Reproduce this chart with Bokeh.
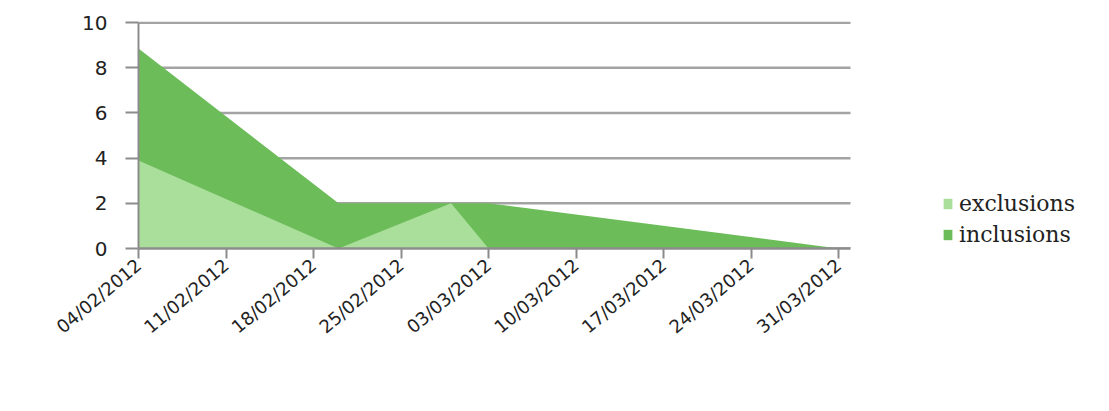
from datetime import datetime, timedelta

from bokeh.embed import file_html
from bokeh.models import (ColumnDataSource, FixedTicker, Legend, LegendItem,
                          Range1d)
from bokeh.plotting import figure
from bokeh.resources import INLINE

# Weekly counts of screened patients
dates = ["04/02/2012", "20/02/2012", "29/02/2012", "03/03/2012", "31/03/2012"]
exclusions = [3.9, 0, 2, 0, 0]
inclusions = [8.85, 2, 2, 2, 0]

tick_labels = ["04/02/2012", "11/02/2012", "18/02/2012", "25/02/2012",
               "03/03/2012", "10/03/2012", "17/03/2012", "24/03/2012",
               "31/03/2012"]
y_ticks = [0, 2, 4, 6, 8, 10]

DARK = "#6cbd5a"
LIGHT = "#aade9b"
GRID = "#a3a3a3"
AXIS = "#8c8c8c"

W, H = 1109, 411
LEFT, TOP, BOTTOM = 138, 21, 163
PLOT_RIGHT = 850          # where the grid and the x axis stop


def parse(d):
    return datetime.strptime(d, "%d/%m/%Y")


def ms(d):
    return (d - datetime(1970, 1, 1)).total_seconds() * 1000.0


x = [parse(d) for d in dates]
src = ColumnDataSource(dict(x=x, exc=exclusions, inc=inclusions))

tick_dates = [parse(t) for t in tick_labels]
tick_ms = [ms(t) for t in tick_dates]

# data span of the axis; the frame runs on to the right edge so the
# legend can sit beside the plot without being clipped
x_start = tick_dates[0]
x_end = tick_dates[-1] + timedelta(days=0.95)
span = (x_end - x_start) * ((W - LEFT) / (PLOT_RIGHT - LEFT))

p = figure(width=W, height=H, x_axis_type="datetime",
           output_backend="svg", toolbar_location=None,
           min_border_left=LEFT, min_border_right=0,
           min_border_top=TOP, min_border_bottom=BOTTOM,
           x_range=Range1d(x_start, x_start + span),
           y_range=Range1d(0, 10.05))
p.outline_line_color = None
p.background_fill_color = "white"
p.border_fill_color = "white"
p.grid.grid_line_color = None

# horizontal grid lines, limited to the date span
p.segment(x0=[x_start] * len(y_ticks), x1=[x_end] * len(y_ticks),
          y0=y_ticks, y1=y_ticks, line_color=GRID, line_width=2.5)

# inclusions behind, exclusions in front
r_inc = p.varea(x="x", y1=0, y2="inc", source=src, fill_color=DARK)
r_exc = p.varea(x="x", y1=0, y2="exc", source=src, fill_color=LIGHT)

# y axis
ya = p.yaxis[0]
ya.ticker = FixedTicker(ticks=y_ticks)
ya.bounds = (0, 10)
ya.axis_line_color = AXIS
ya.axis_line_width = 2
ya.major_tick_line_color = AXIS
ya.major_tick_line_width = 2
ya.major_tick_in = 0
ya.major_tick_out = 13
ya.minor_tick_line_color = None
ya.major_label_text_font = "DejaVu Sans"
ya.major_label_text_font_size = "20px"
ya.major_label_text_color = "#222222"
ya.major_label_standoff = 18

# x axis
xa = p.xaxis[0]
xa.bounds = (ms(x_start), ms(x_end))
xa.ticker = FixedTicker(ticks=tick_ms)
xa.major_label_overrides = {t: lab for t, lab in zip(tick_ms, tick_labels)}
xa.axis_line_color = AXIS
xa.axis_line_width = 2.5
xa.major_tick_line_color = AXIS
xa.major_tick_line_width = 2
xa.major_tick_in = 0
xa.major_tick_out = 10
xa.minor_tick_line_color = None
xa.major_label_orientation = 0.7
xa.major_label_text_font = "DejaVu Sans"
xa.major_label_text_font_size = "18px"
xa.major_label_text_color = "#222222"
xa.major_label_standoff = 4

legend = Legend(items=[LegendItem(label="exclusions", renderers=[r_exc]),
                       LegendItem(label="inclusions", renderers=[r_inc])],
                location=(804, 1), orientation="vertical",
                border_line_color=None, background_fill_alpha=0,
                margin=0, padding=0, spacing=6,
                glyph_width=11, glyph_height=13, label_standoff=6,
                label_height=20,
                label_text_font="DejaVu Serif", label_text_font_size="22px",
                label_text_color="#222222")
p.add_layout(legend, "center")

open("out.html", "w").write(file_html(p, INLINE))
